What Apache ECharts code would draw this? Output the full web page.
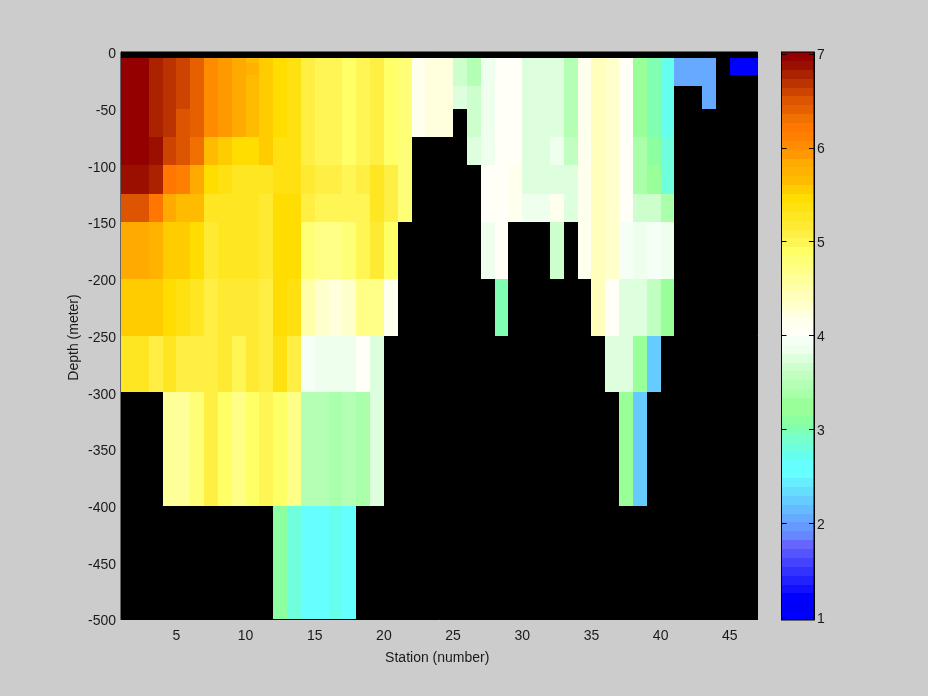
<!DOCTYPE html>
<html>
<head>
<meta charset="utf-8">
<style>html,body{margin:0;padding:0;background:#cccccc}#c{width:928px;height:696px}</style>
<script src="https://cdn.jsdelivr.net/npm/echarts@6/dist/echarts.min.js"></script>
</head>
<body>
<div id="c"></div>
<script>
const _ = null;
// Station edges: column k spans station k .. k+1
const stationMin = 1, stationMax = 47;
const stationTicks = [5,10,15,20,25,30,35,40,45];
// Depth layers (m, positive down), one more edge than rows of values
const depthEdges = [5,10,20,30,50,75,100,125,150,200,250,300,400,500];
const colorMin = 0.97, colorMax = 7.02;
const colorTicks = [1,2,3,4,5,6,7];

const layer1 = [6.97,6.97,6.78,6.69,6.59,6.40,6.03,5.93,5.84,5.65,5.55,5.46,5.37,5.08,4.99,4.99,4.89,4.99,5.08,4.89,4.80,4.14,4.23,4.23,3.66,3.48,3.85,4.04,4.04,3.76,3.76,3.76,3.48,4.14,4.42,4.33,4.04,3.29,3.00,2.72,2.06,2.06,2.06,_,1.02,1.02];
const layer2 = [6.97,6.97,6.78,6.69,6.59,6.40,6.03,5.93,5.84,5.74,5.55,5.46,5.37,5.08,4.99,4.99,4.89,4.99,5.08,4.89,4.80,4.14,4.23,4.23,3.66,3.48,3.85,4.04,4.04,3.76,3.76,3.76,3.48,4.14,4.42,4.33,4.04,3.29,3.00,2.72,2.06,2.06,2.06,_,1.02,1.02];
const layer3 = [6.97,6.97,6.78,6.69,6.59,6.40,6.03,5.93,5.84,5.65,5.55,5.46,5.37,5.08,4.99,4.99,4.89,4.99,5.08,4.89,4.80,4.14,4.23,4.23,3.66,3.48,3.85,4.04,4.04,3.76,3.76,3.76,3.48,4.14,4.42,4.33,4.04,3.29,3.00,2.72,2.06,2.06,2.06,_,_,_];
const layer4 = [6.97,6.97,6.78,6.69,6.59,6.40,6.03,5.93,5.84,5.65,5.55,5.46,5.37,5.08,4.99,4.99,4.89,4.99,5.08,4.89,4.80,4.14,4.23,4.23,3.76,3.66,3.85,4.04,4.04,3.76,3.76,3.76,3.48,4.14,4.42,4.33,4.04,3.29,3.00,2.72,_,_,2.06,_,_,_];
const layer5 = [6.97,6.97,6.78,6.69,6.50,6.40,6.03,5.93,5.84,5.65,5.55,5.46,5.37,5.08,4.99,4.99,4.89,4.99,5.08,4.89,4.80,4.14,4.23,4.23,_,3.66,3.85,4.04,4.04,3.76,3.76,3.76,3.48,4.14,4.42,4.33,4.04,3.29,3.00,2.72,_,_,_,_,_,_];
const layer6 = [6.97,6.97,6.88,6.59,6.50,6.31,5.65,5.55,5.46,5.46,5.55,5.37,5.37,5.08,4.99,4.99,4.89,4.99,5.08,4.89,4.80,_,_,_,_,3.76,3.85,4.04,4.04,3.76,3.76,3.85,3.57,4.14,4.42,4.33,4.04,3.38,3.10,2.81,_,_,_,_,_,_];
const layer7 = [6.88,6.88,6.78,6.22,6.12,5.84,5.46,5.37,5.27,5.27,5.27,5.37,5.37,5.18,5.08,5.08,4.99,5.08,5.27,5.08,4.80,_,_,_,_,_,4.04,4.04,4.14,3.76,3.76,3.76,3.76,4.14,4.42,4.33,4.04,3.38,3.19,2.81,_,_,_,_,_,_];
const layer8 = [6.50,6.50,6.22,5.84,5.65,5.65,5.27,5.27,5.27,5.27,5.18,5.46,5.46,5.08,4.99,4.99,4.99,4.99,5.27,5.08,4.80,_,_,_,_,_,4.04,4.04,4.14,3.85,3.85,4.14,3.76,4.14,4.42,4.33,4.04,3.66,3.66,3.38,_,_,_,_,_,_];
const layer9 = [5.84,5.84,5.74,5.55,5.55,5.46,5.18,5.27,5.27,5.27,5.18,5.46,5.46,4.80,4.70,4.70,4.80,4.99,5.18,4.89,_,_,_,_,_,_,3.85,4.04,_,_,_,3.66,_,4.14,4.42,4.33,3.95,3.85,3.95,3.85,_,_,_,_,_,_];
const layer10 = [5.55,5.55,5.55,5.46,5.37,5.27,5.08,5.18,5.18,5.18,5.08,5.46,5.37,4.52,4.33,4.23,4.33,4.70,4.70,4.14,_,_,_,_,_,_,_,3.00,_,_,_,_,_,_,4.42,4.04,3.76,3.76,3.57,3.29,_,_,_,_,_,_];
const layer11 = [5.27,5.27,5.08,5.27,5.08,5.08,5.08,5.18,4.99,5.18,5.08,5.37,5.08,3.95,3.85,3.85,3.85,4.04,3.76,_,_,_,_,_,_,_,_,_,_,_,_,_,_,_,_,3.76,3.76,3.29,2.25,_,_,_,_,_,_,_];
const layer12 = [_,_,_,4.61,4.61,4.80,5.08,4.89,4.70,4.89,4.99,4.89,4.70,3.48,3.48,3.38,3.48,3.38,3.76,_,_,_,_,_,_,_,_,_,_,_,_,_,_,_,_,_,3.29,2.25,_,_,_,_,_,_,_,_];
const layer13 = [_,_,_,_,_,_,_,_,_,_,_,3.10,2.81,2.53,2.53,2.72,2.53,_,_,_,_,_,_,_,_,_,_,_,_,_,_,_,_,_,_,_,_,_,_,_,_,_,_,_,_,_];
const layers = [layer1,layer2,layer3,layer4,layer5,layer6,layer7,layer8,layer9,layer10,layer11,layer12,layer13];

// 64-step colormap, bottom (low) to top (high)
const colormap = [
'#0000FF','#0000F8','#0000FF','#1111FF','#2222FF','#3333FF','#4444FF','#5555FF',
'#6666FF','#6688FF','#6699FF','#66AAFF','#66BBFF','#66CCFF','#66DDFF','#66EEFF',
'#66FFFF','#66FFFF','#66FFEE','#70FFDD','#77FFCC','#80FFB3','#8CFFA0','#99FF99',
'#99FF99','#AAFFAA','#B3FFB3','#C0FFC0','#CCFFCC','#DDFFDD','#EEFFEE','#F5FFF5',
'#FFFFF8','#FFFFEE','#FFFFDD','#FFFFCC','#FFFFBB','#FFFFAA','#FFFF99','#FFFF88',
'#FFFF77','#FFFF66','#FFF655','#FFEE44','#FFEA33','#FFE622','#FFE011','#FFDD00',
'#FFCC00','#FFBB00','#FFB300','#FFAA00','#FF9900','#FF8C00','#FF8000','#FF7700',
'#F07000','#E66000','#DD5500','#CC4400','#BB3300','#AA2200','#9B0F00','#940000'];

const cells = [];
layers.forEach(function (row, r) {
  row.forEach(function (v, k) {
    if (v !== null) cells.push([stationMin + k, stationMin + k + 1, -depthEdges[r], -depthEdges[r + 1], v]);
  });
});
const step = (colorMax - colorMin) / colormap.length;
const barCells = colormap.map(function (c, i) {
  return [0, 1, colorMin + i * step, colorMin + (i + 1) * step, colorMin + (i + 0.5) * step];
});
const pieces = colormap.map(function (c, i) {
  return { gte: colorMin + i * step, lt: colorMin + (i + 1) * step, color: c };
});

function renderCell(params, api) {
  const p0 = api.coord([api.value(0), api.value(2)]);
  const p1 = api.coord([api.value(1), api.value(3)]);
  const x0 = Math.round(p0[0]), x1 = Math.round(p1[0]);
  const y0 = Math.round(p0[1]), y1 = Math.round(p1[1]);
  return {
    type: 'rect',
    shape: { x: x0, y: y0, width: x1 - x0, height: y1 - y0 },
    style: { fill: api.visual('color') },
    silent: true
  };
}
const font = { fontFamily: '"Liberation Sans", Arial, sans-serif', fontSize: 14, color: '#1a1a1a' };
const blackLine = { show: true, onZero: false, lineStyle: { color: '#000', width: 1 } };
const barTick = { show: true, inside: true, length: 5, customValues: colorTicks, lineStyle: { color: '#000', width: 1 } };

const chart = echarts.init(document.getElementById('c'), null, { renderer: 'canvas', width: 928, height: 696 });
chart.setOption({
  animation: false,
  backgroundColor: '#cccccc',
  grid: [
    { left: 121, top: 52, width: 636.5, height: 567, show: true, backgroundColor: '#000', borderColor: '#000', borderWidth: 1 },
    { left: 781.5, top: 52, width: 32.5, height: 568, show: true, backgroundColor: 'transparent', borderColor: '#000', borderWidth: 1, z: 5 }
  ],
  xAxis: [
    { type: 'value', gridIndex: 0, min: stationMin, max: stationMax, position: 'bottom',
      name: 'Station (number)', nameLocation: 'middle', nameGap: 32, nameMoveOverlap: false,
      nameTextStyle: Object.assign({ padding: [0, 4, 0, 0] }, font),
      axisLine: blackLine, splitLine: { show: false },
      axisTick: { show: false, customValues: stationTicks },
      axisLabel: Object.assign({ margin: 10, customValues: stationTicks }, font) },
    { type: 'value', gridIndex: 1, min: 0, max: 1, show: false, splitLine: { show: false } }
  ],
  yAxis: [
    { type: 'value', gridIndex: 0, min: -500, max: 0, interval: 50, position: 'left',
      name: 'Depth (meter)', nameLocation: 'middle', nameGap: 40, nameRotate: 90, nameMoveOverlap: false,
      nameTextStyle: Object.assign({ padding: [0, 4, 0, 0] }, font),
      axisLine: blackLine, splitLine: { show: false }, axisTick: { show: false },
      axisLabel: Object.assign({ margin: 5, verticalAlign: 'top', lineHeight: 5 }, font) },
    { type: 'value', gridIndex: 1, min: colorMin, max: colorMax, position: 'right', z: 20,
      axisLine: blackLine, splitLine: { show: false },
      axisTick: barTick,
      axisLabel: Object.assign({ margin: 3, verticalAlign: 'top', lineHeight: 3, showMinLabel: true, showMaxLabel: true, customValues: colorTicks }, font) },
    { type: 'value', gridIndex: 1, min: colorMin, max: colorMax, position: 'left', z: 20,
      axisLine: blackLine, splitLine: { show: false },
      axisTick: barTick,
      axisLabel: { show: false } }
  ],
  visualMap: {
    type: 'piecewise', show: false, dimension: 4, seriesIndex: [0, 1], pieces: pieces
  },
  series: [
    { type: 'custom', xAxisIndex: 0, yAxisIndex: 0, renderItem: renderCell, data: cells, z: 1,
      encode: { x: [0, 1], y: [2, 3] }, silent: true },
    { type: 'custom', xAxisIndex: 1, yAxisIndex: 1, renderItem: renderCell, data: barCells, z: 1,
      encode: { x: [0, 1], y: [2, 3] }, silent: true }
  ]
});
</script>
</body>
</html>
